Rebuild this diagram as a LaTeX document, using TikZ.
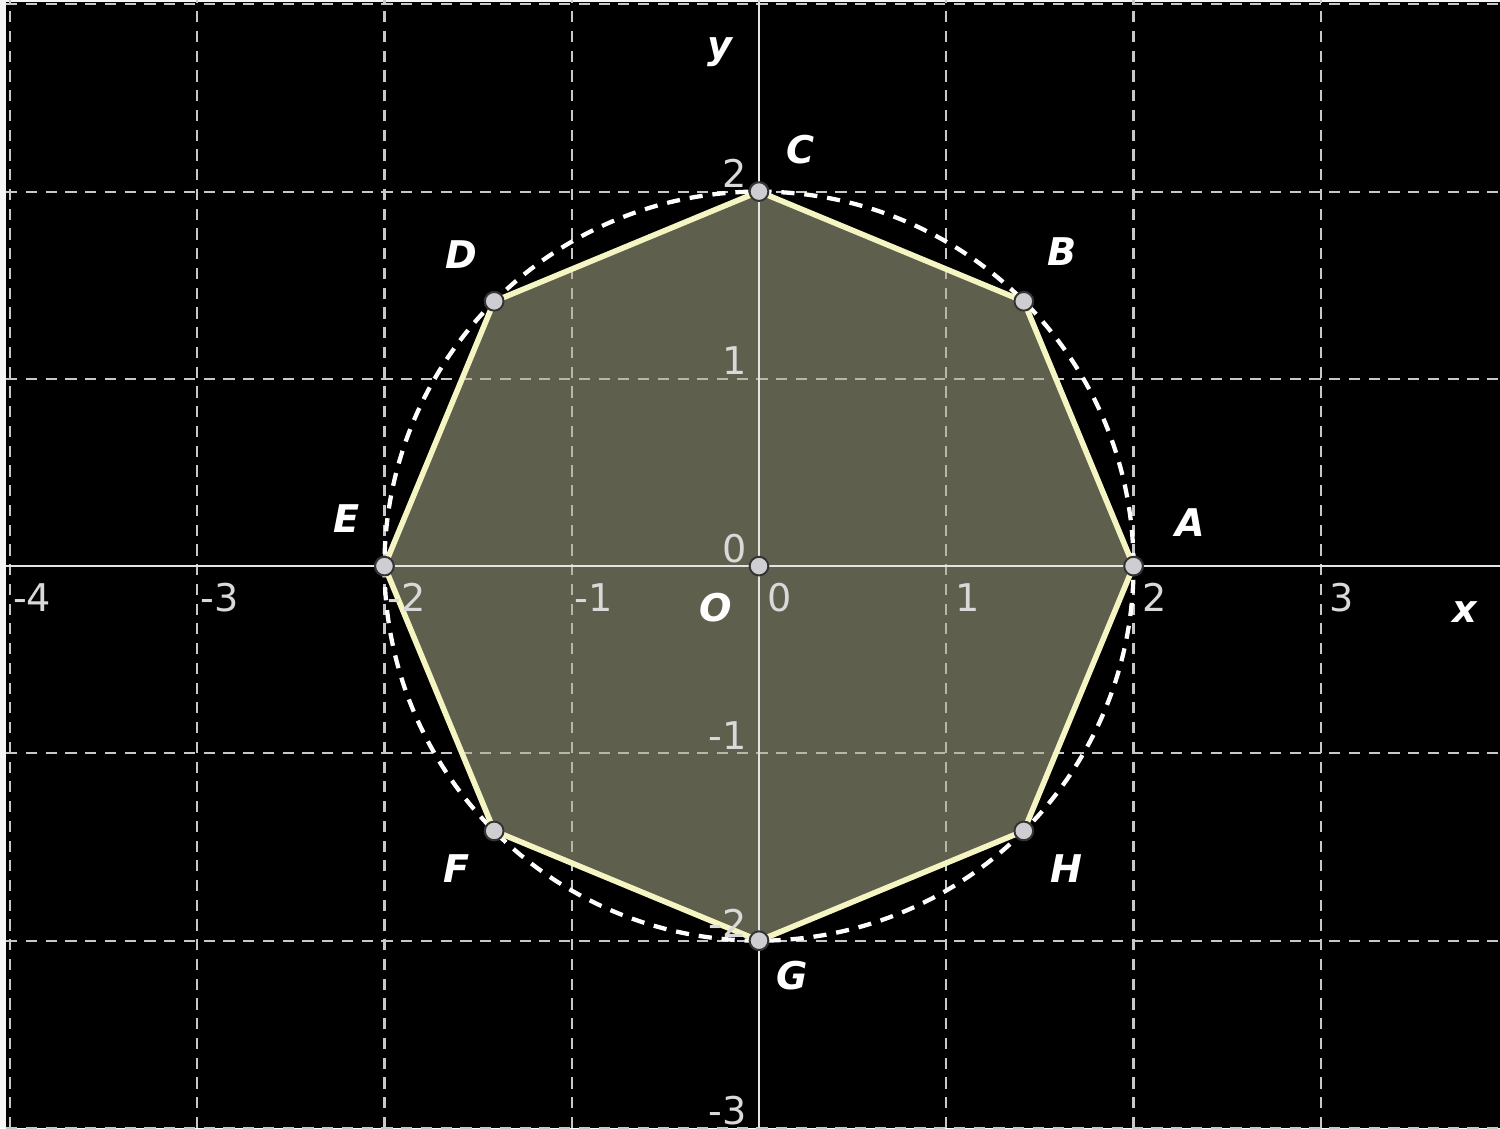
\documentclass[tikz,border=0pt]{standalone}
\usepackage{fontspec}
\setmainfont{DejaVu Sans}

\definecolor{framegray}{RGB}{244,245,245}
\definecolor{gridgray}{RGB}{200,200,200}
\definecolor{axisgray}{RGB}{228,228,228}
\definecolor{polyfill}{RGB}{170,170,140}
\definecolor{edgeyellow}{RGB}{245,245,195}
\definecolor{ptgray}{RGB}{205,205,210}

\newcommand*{\xmin}{-4.053}
\newcommand*{\xmax}{3.957}
\newcommand*{\ymin}{-3.001}
\newcommand*{\ymax}{3.023}

\begin{document}
\begin{tikzpicture}
[
	gridline/.style={gridgray,line width=0.32pt,dash pattern=on 1.7pt off 1.3pt},
	axisline/.style={axisgray,line width=0.4pt},
	vertex/.style={circle,draw=black!80,fill=ptgray,line width=0.3pt,inner sep=0pt,minimum size=0.1cm},
	ticklabel/.style={white!85!black,inner sep=0pt,font=\fontsize{5.8}{7}\selectfont},
	ptlabel/.style={white,inner sep=0pt,font=\fontsize{5.8}{7}\selectfont\bfseries\itshape}
]
	\useasboundingbox (\xmin,\ymin) rectangle (\xmax,\ymax);

	% background
	\fill[framegray] (\xmin,\ymin) rectangle (\xmax,\ymax);
	\fill[black] (-4.02,\ymin) rectangle (\xmax,3.012);

	% grid
	\foreach \k in {-4,...,3}
		\draw[gridline] (\k,\ymin) -- (\k,\ymax);
	\foreach \k in {-3,...,3}
		\draw[gridline] (-4.02,\k) -- (\xmax,\k);

	% vertices
	\node[vertex] at (2,0) (A) {};
	\node[vertex] at (1.414,1.414) (B) {};
	\node[vertex] at (0,2) (C) {};
	\node[vertex] at (-1.414,1.414) (D) {};
	\node[vertex] at (-2,0) (E) {};
	\node[vertex] at (-1.414,-1.414) (F) {};
	\node[vertex] at (0,-2) (G) {};
	\node[vertex] at (1.414,-1.414) (H) {};
	\node[vertex] at (0,0) (O) {};

	% fills
	\fill[polyfill,fill opacity=0.56] (A.center) -- (B.center) -- (C.center) -- (D.center) -- (E.center) -- (F.center) -- (G.center) -- (H.center) -- cycle;

	% axes
	\draw[axisline] (-4.02,0) -- (\xmax,0);
	\draw[axisline] (0,\ymin) -- (0,3.012);

	% circle and octagon
	\draw[white,line width=0.65pt,dash pattern=on 2pt off 1.5pt] (O.center) circle (2);
	\draw[edgeyellow,line width=0.85pt,line join=round] (A.center) -- (B.center) -- (C.center) -- (D.center) -- (E.center) -- (F.center) -- (G.center) -- (H.center) -- cycle;
	\foreach \p in {A,B,C,D,E,F,G,H,O}
		\node[vertex] at (\p) {};

	% tick labels
	\foreach \k in {-4,...,-1}
		\node[ticklabel,anchor=west] at (\k+0.01,-0.166) {\k};
	\foreach \k in {0,...,3}
		\node[ticklabel,anchor=west] at (\k+0.04,-0.166) {\k};
	\foreach \k in {-3,...,2}
		\node[ticklabel,anchor=east] at (-0.06,\k+0.095) {\k};

	% labels
	\node[ptlabel] at (2.302,0.235) {A};
	\node[ptlabel] at (1.618,1.677) {B};
	\node[ptlabel] at (0.219,2.222) {C};
	\node[ptlabel] at (-1.591,1.661) {D};
	\node[ptlabel] at (-2.200,0.256) {E};
	\node[ptlabel] at (-1.613,-1.613) {F};
	\node[ptlabel] at (0.176,-2.184) {G};
	\node[ptlabel] at (1.640,-1.613) {H};
	\node[ptlabel] at (-0.230,-0.219) {O};
	\node[ptlabel] at (3.770,-0.246) {x};
	\node[ptlabel] at (-0.208,2.745) {y};

\end{tikzpicture}
\end{document}
